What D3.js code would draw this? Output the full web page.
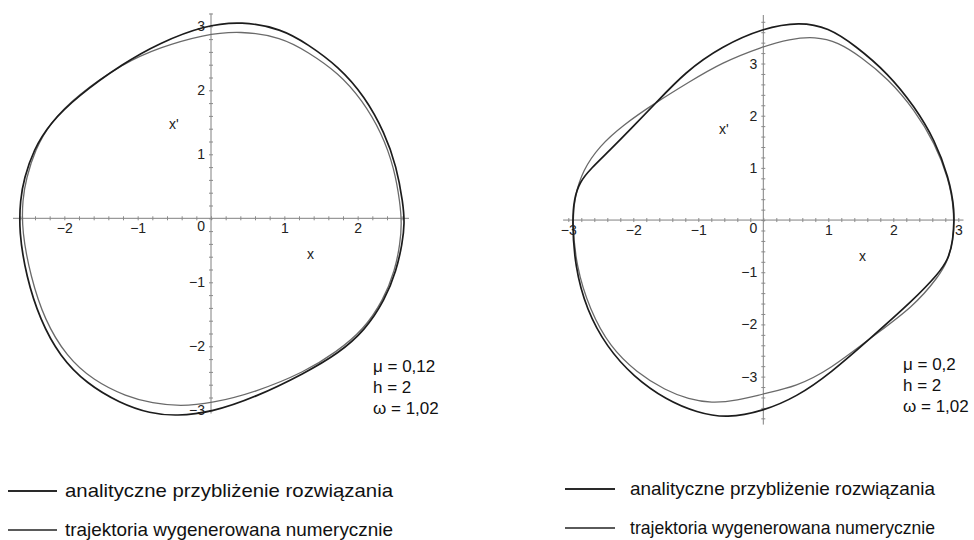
<!DOCTYPE html>
<html>
<head>
<meta charset="utf-8">
<script src="https://cdn.jsdelivr.net/npm/d3@7"></script>
<style>
  body { margin: 0; background: #fff; }
  svg { font-family: "Liberation Sans", Arial, sans-serif; }
</style>
</head>
<body>
<svg id="chart" width="974" height="540"></svg>
<script>
// left panel (mu = 0.12): analytic and numerical trajectories, [x, x']
const analytic1 = [
  [-2.62, -0.20], [-2.60, 0.30], [-2.55, 0.62], [-2.42, 1.07], [-2.20, 1.48], [-1.83, 1.90],
  [-1.20, 2.42], [-0.70, 2.74], [-0.10, 3.01], [0.42, 3.08], [0.96, 2.96], [1.32, 2.72],
  [1.74, 2.37], [2.10, 1.90], [2.37, 1.33], [2.53, 0.81], [2.62, 0.23], [2.64, -0.08],
  [2.61, -0.39], [2.53, -0.81], [2.37, -1.28], [2.10, -1.75], [1.74, -2.11], [1.28, -2.42],
  [0.60, -2.80], [0.01, -3.03], [-0.47, -3.09], [-0.83, -3.05], [-1.24, -2.89], [-1.70, -2.58],
  [-2.06, -2.16], [-2.33, -1.59], [-2.52, -0.91]
];
const numeric1 = [
  [-2.58, -0.20], [-2.57, 0.30], [-2.52, 0.62], [-2.40, 1.07], [-2.19, 1.50], [-1.82, 1.93],
  [-1.20, 2.42], [-0.70, 2.67], [-0.10, 2.87], [0.40, 2.93], [0.96, 2.83], [1.32, 2.60],
  [1.74, 2.27], [2.06, 1.85], [2.33, 1.33], [2.50, 0.78], [2.58, 0.23], [2.60, -0.08],
  [2.58, -0.39], [2.51, -0.81], [2.35, -1.28], [2.08, -1.74], [1.71, -2.09], [1.28, -2.40],
  [0.60, -2.72], [0.01, -2.89], [-0.42, -2.94], [-0.80, -2.89], [-1.15, -2.79], [-1.61, -2.53],
  [-1.97, -2.16], [-2.27, -1.59], [-2.46, -0.91]
];
// right panel (mu = 0.2)
const analytic2 = [
  [-2.94, 0.00], [-2.91, 0.40], [-2.83, 0.72], [-2.66, 0.98], [-2.35, 1.35], [-2.02, 1.77],
  [-1.67, 2.22], [-1.20, 2.84], [-0.64, 3.33], [0.00, 3.68], [0.56, 3.80], [1.00, 3.69],
  [1.41, 3.35], [1.92, 2.81], [2.33, 2.17], [2.64, 1.53], [2.85, 0.83], [2.95, 0.20],
  [2.92, -0.42], [2.84, -0.76], [2.70, -1.02], [2.31, -1.53], [1.67, -2.24], [1.03, -2.94],
  [0.51, -3.39], [0.00, -3.66], [-0.56, -3.80], [-1.02, -3.69], [-1.49, -3.45], [-2.00, -3.00],
  [-2.41, -2.43], [-2.72, -1.72], [-2.90, -0.89]
];
const numeric2 = [
  [-2.94, 0.00], [-2.90, 0.45], [-2.78, 0.95], [-2.52, 1.42], [-2.16, 1.82], [-1.67, 2.24],
  [-1.15, 2.64], [-0.64, 3.02], [0.00, 3.33], [0.40, 3.47], [0.80, 3.52], [1.15, 3.41],
  [1.50, 3.13], [1.92, 2.71], [2.33, 2.11], [2.64, 1.47], [2.85, 0.80], [2.94, 0.19],
  [2.92, -0.42], [2.84, -0.77], [2.70, -1.08], [2.31, -1.66], [1.67, -2.24], [1.03, -2.86],
  [0.51, -3.19], [0.00, -3.33], [-0.40, -3.46], [-0.80, -3.51], [-1.15, -3.43], [-1.50, -3.27],
  [-1.95, -2.92], [-2.36, -2.43], [-2.67, -1.72], [-2.88, -0.89]
];

const params1 = ["μ = 0,12", "h = 2", "ω = 1,02"];
const params2 = ["μ = 0,2", "h = 2", "ω = 1,02"];
const legendLabels = ["analityczne przybliżenie rozwiązania", "trajektoria wygenerowana numerycznie"];

const svg = d3.select('#chart');

function range(a, b, step) {
  const out = [];
  for (let v = a; v <= b + 1e-9; v += step) out.push(Math.round(v * 10) / 10);
  return out;
}

function drawPanel(cfg) {
  const x = d3.scaleLinear().domain(cfg.xDomain).range(cfg.xRange);
  const y = d3.scaleLinear().domain(cfg.yDomain).range(cfg.yRange);
  const g = svg.append('g');
  const x0 = x(0), y0 = y(0);

  // axis lines
  g.append('line').attr('x1', cfg.xRange[0]).attr('x2', cfg.xRange[1])
    .attr('y1', y0).attr('y2', y0).attr('stroke', '#808080').attr('stroke-width', 1);
  g.append('line').attr('x1', x0).attr('x2', x0)
    .attr('y1', cfg.yRange[0]).attr('y2', cfg.yRange[1]).attr('stroke', '#808080').attr('stroke-width', 1);

  // minor ticks
  const xMinor = g.append('g').attr('transform', `translate(0,${y0 - 2})`)
    .call(d3.axisBottom(x).tickValues(cfg.xMinor).tickSize(4).tickFormat(''));
  const yMinor = g.append('g').attr('transform', `translate(${x0 + 2},0)`)
    .call(d3.axisLeft(y).tickValues(cfg.yMinor).tickSize(4).tickFormat(''));
  [xMinor, yMinor].forEach(a => {
    a.select('.domain').remove();
    a.selectAll('line').attr('stroke', '#8a8a8a');
  });

  // tick labels
  const fmt = d3.format('d');
  const xLab = g.append('g').attr('transform', `translate(0,${y0})`)
    .call(d3.axisBottom(x).tickValues(cfg.xMajor.filter(v => v !== 0)).tickFormat(fmt).tickSize(0).tickPadding(5));
  const yLab = g.append('g').attr('transform', `translate(${x0},0)`)
    .call(d3.axisLeft(y).tickValues(cfg.yMajor.filter(v => v !== 0)).tickFormat(fmt).tickSize(0).tickPadding(6));
  [xLab, yLab].forEach(a => {
    a.select('.domain').remove();
    a.selectAll('text').attr('font-size', 14).attr('fill', '#222')
      .attr('font-family', '"Liberation Sans", Arial, sans-serif');
  });
  g.append('text').attr('x', x0 - 6).attr('y', y0 + 13).attr('text-anchor', 'end')
    .attr('font-size', 14).attr('fill', '#222').text('0');

  // curves
  const line = d3.line().x(d => x(d[0])).y(d => y(d[1])).curve(d3.curveBasisClosed);
  g.append('path').datum(cfg.numeric).attr('d', line)
    .attr('fill', 'none').attr('stroke', '#6a6a6a').attr('stroke-width', 1.3);
  g.append('path').datum(cfg.analytic).attr('d', line)
    .attr('fill', 'none').attr('stroke', '#1c1c1c').attr('stroke-width', 1.7);

  // axis names
  g.append('text').attr('x', cfg.xName[0]).attr('y', cfg.xName[1])
    .attr('font-size', 14).attr('fill', '#222').text('x');
  g.append('text').attr('x', cfg.yName[0]).attr('y', cfg.yName[1])
    .attr('font-size', 14).attr('fill', '#222').text("x'");

  // parameters
  g.selectAll('.param').data(cfg.params).enter().append('text')
    .attr('x', cfg.paramPos[0]).attr('y', (d, i) => cfg.paramPos[1] + i * 21)
    .attr('font-size', 17).attr('fill', '#111').text(d => d);

  // legend
  const lg = g.selectAll('.leg').data(legendLabels).enter().append('g')
    .attr('transform', (d, i) => `translate(0,${cfg.legend.y + i * 39})`);
  lg.append('line').attr('x1', cfg.legend.x1).attr('x2', cfg.legend.x2)
    .attr('stroke', (d, i) => i === 0 ? '#2a2a2a' : '#5a5a5a').attr('stroke-width', 2);
  lg.append('text').attr('x', cfg.legend.tx).attr('y', 6)
    .attr('font-size', 19).attr('fill', '#111')
    .attr('textLength', cfg.legend.tw).attr('lengthAdjust', 'spacingAndGlyphs')
    .text(d => d);
}

drawPanel({
  xDomain: [-2.7, 2.7], xRange: [13, 409],
  yDomain: [-3.05, 3.2], yRange: [413.5, 13.5],
  xMajor: [-2, -1, 0, 1, 2], yMajor: [-3, -2, -1, 0, 1, 2, 3],
  xMinor: range(-2.6, 2.6, 0.2), yMinor: range(-3.0, 3.2, 0.2),
  analytic: analytic1, numeric: numeric1,
  xName: [307, 259], yName: [169, 129],
  params: params1, paramPos: [373, 372],
  legend: { y: 491, x1: 8, x2: 57, tx: 65, tw: 328 }
});

drawPanel({
  xDomain: [-3.08, 3.08], xRange: [563.1, 963.5],
  yDomain: [-3.92, 3.93], yRange: [424.6, 15],
  xMajor: [-3, -2, -1, 0, 1, 2, 3], yMajor: [-3, -2, -1, 0, 1, 2, 3],
  xMinor: range(-3.0, 3.0, 0.2), yMinor: range(-3.8, 3.8, 0.2),
  analytic: analytic2, numeric: numeric2,
  xName: [859, 261], yName: [719, 134],
  params: params2, paramPos: [903, 370],
  legend: { y: 489, x1: 565, x2: 615, tx: 630, tw: 305 }
});
</script>
</body>
</html>
